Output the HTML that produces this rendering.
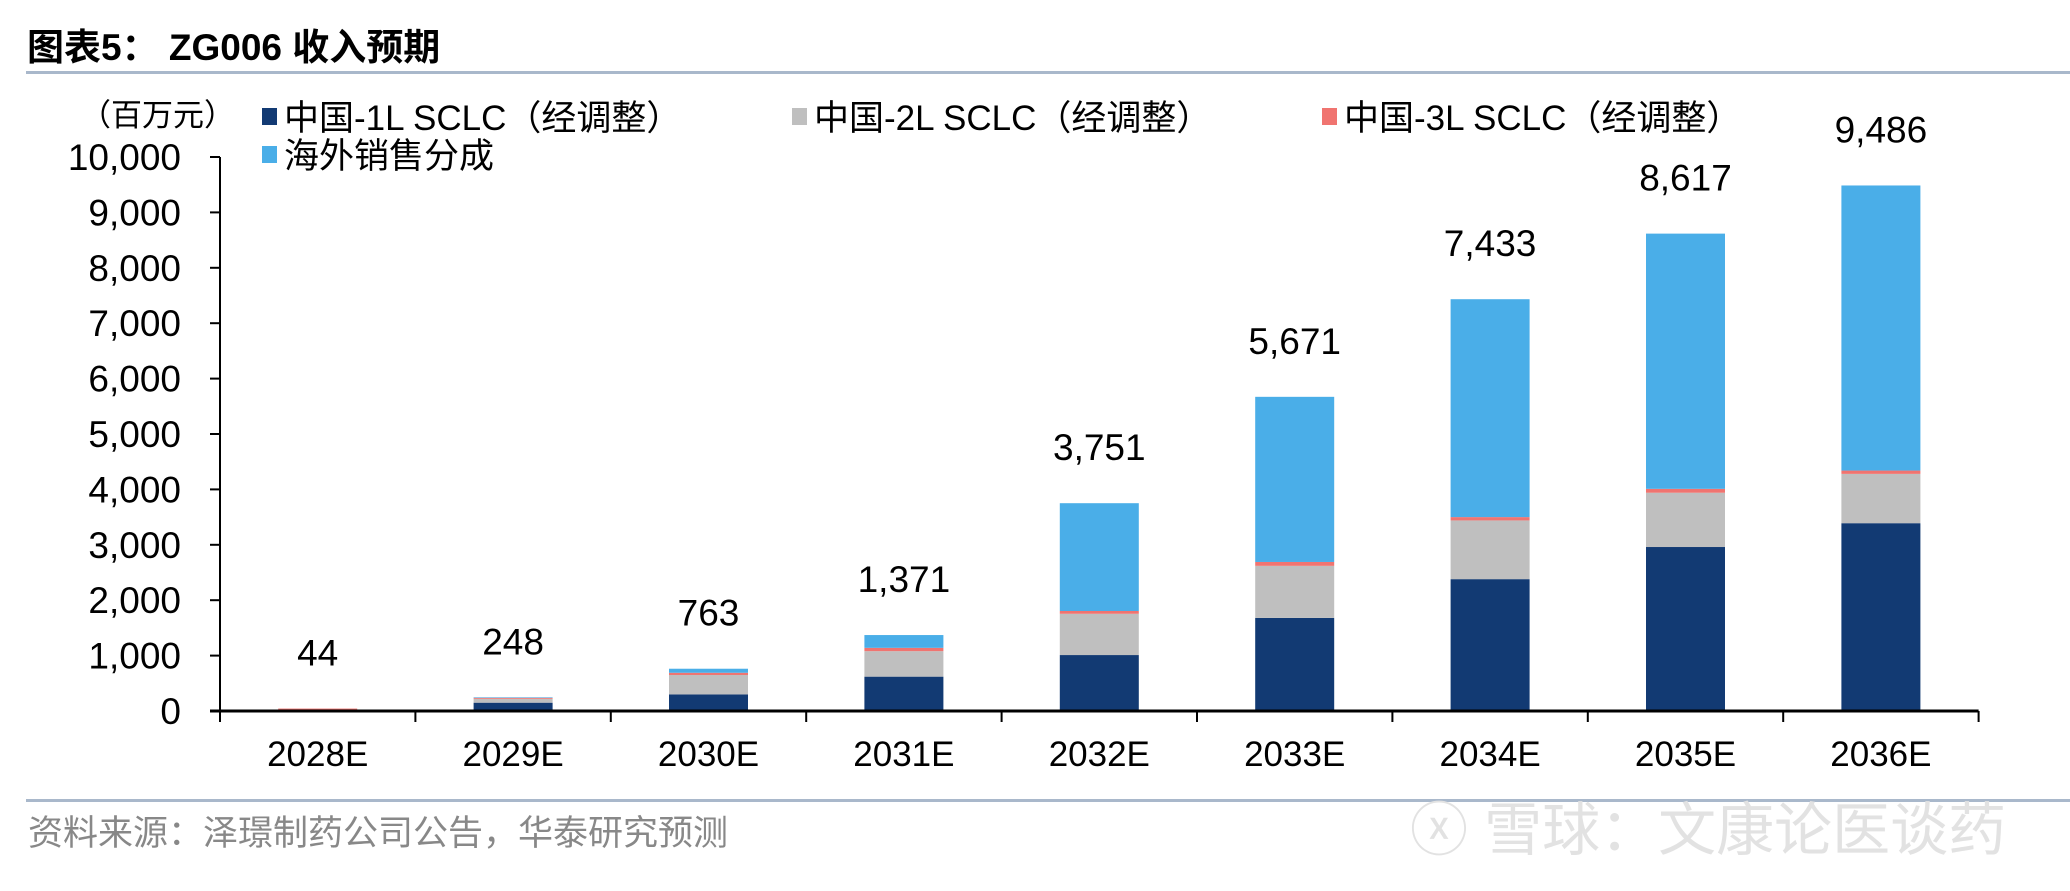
<!DOCTYPE html>
<html><head><meta charset="utf-8">
<style>
html,body{margin:0;padding:0;background:#fff;}
body{width:2070px;height:886px;overflow:hidden;font-family:"Liberation Sans","Noto Sans CJK SC",sans-serif;}
</style></head>
<body>
<svg id="chart" width="2070" height="886" xmlns="http://www.w3.org/2000/svg" font-family="Liberation Sans, Noto Sans CJK SC, sans-serif">
<text x="27" y="60" font-size="37" font-weight="bold" fill="#000">图表5：  ZG006 收入预期</text>
<rect x="26" y="71" width="2044" height="3" fill="#a9b8cb"/>
<text x="80" y="126" font-size="31" fill="#000">（百万元）</text>
<g id="legend"></g>
<g id="plot"></g>
<rect x="26" y="799" width="2044" height="3" fill="#a9b8cb"/>
<text x="28" y="845" font-size="35" fill="#888">资料来源：泽璟制药公司公告，华泰研究预测</text>
<text x="1410" y="850" font-size="58" fill="#e2e2e2">ⓧ 雪球：文康论医谈药</text>
</svg>
<script>
const categories = ["2028E","2029E","2030E","2031E","2032E","2033E","2034E","2035E","2036E"];
const seriesNames = ["中国-1L SCLC（经调整）","中国-2L SCLC（经调整）","中国-3L SCLC（经调整）","海外销售分成"];
const china1L = [12,150,300,620,1010,1680,2380,2960,3390];
const china2L = [8,70,350,460,745,940,1060,980,890];
const china3L = [24,18,40,60,50,70,60,70,60];
const overseas = [0,10,73,231,1946,2981,3933,4607,5146];
const totals = [44,248,763,1371,3751,5671,7433,8617,9486];
const yTicks = [0,1000,2000,3000,4000,5000,6000,7000,8000,9000,10000];
const yTickLabels = ["0","1,000","2,000","3,000","4,000","5,000","6,000","7,000","8,000","9,000","10,000"];

const NS="http://www.w3.org/2000/svg";
const colors=["#123a73","#bfbfbf","#f07470","#4aaee8"];
const X0=220, CW=195.4, BW=79, Y0=711, PER=55.4/1000;
const yScale=v=>Y0-v*PER;
const xCenter=i=>X0+(i+0.5)*CW;
function mk(tag,attrs,parent){const e=document.createElementNS(NS,tag);for(const k in attrs)e.setAttribute(k,attrs[k]);parent.appendChild(e);return e;}
const plot=document.getElementById('plot');
const legend=document.getElementById('legend');
const series=[china1L,china2L,china3L,overseas];

yTicks.forEach((t,i)=>{
  const y=yScale(t);
  const tk=mk('line',{x1:X0-10,x2:X0,y1:y,y2:y,stroke:'#000','stroke-width':2},plot);
  
  
  const lb=mk('text',{x:X0-39,y:y+13,'font-size':37,'text-anchor':'end',fill:'#000'},plot);
  lb.textContent=yTickLabels[i];
  
  
});

categories.forEach((c,i)=>{
  let base=0;
  series.forEach((s,k)=>{
    const top=base+s[i];
    const r=mk('rect',{x:xCenter(i)-BW/2,y:yScale(top),width:BW,height:Math.max(0,yScale(base)-yScale(top)),fill:colors[k]},plot);
    
    
    base=top;
  });
  const tv=mk('text',{x:xCenter(i),y:yScale(totals[i])-43,'font-size':37,'text-anchor':'middle',fill:'#000'},plot);
  tv.textContent=totals[i].toLocaleString('en-US');
  
  
  const xl=mk('text',{x:xCenter(i),y:Y0+55,'font-size':35,'text-anchor':'middle',fill:'#000'},plot);
  xl.textContent=c;
  
  
});
for(let i=0;i<=categories.length;i++){
  const x=X0+i*CW;
  const t=mk('line',{x1:x,x2:x,y1:Y0,y2:Y0+11,stroke:'#000','stroke-width':2},plot);
  
  
}
const ya=mk('line',{x1:X0,x2:X0,y1:yScale(10000),y2:Y0+11,stroke:'#000','stroke-width':2},plot);


const xa=mk('line',{x1:X0-10,x2:X0+categories.length*CW,y1:Y0,y2:Y0,stroke:'#000','stroke-width':3},plot);



const legPos=[[262,130],[792,130],[1322,130],[262,168]];
seriesNames.forEach((n,k)=>{
  const [x,y]=legPos[k];
  const sq=mk('rect',{x:x,y:y-22,width:15,height:17,fill:colors[k]},legend);
  
  
  const t=mk('text',{x:x+22,y:y,'font-size':35,fill:'#000'},legend);
  t.textContent=n;
  
  
});
</script>
</body></html>
